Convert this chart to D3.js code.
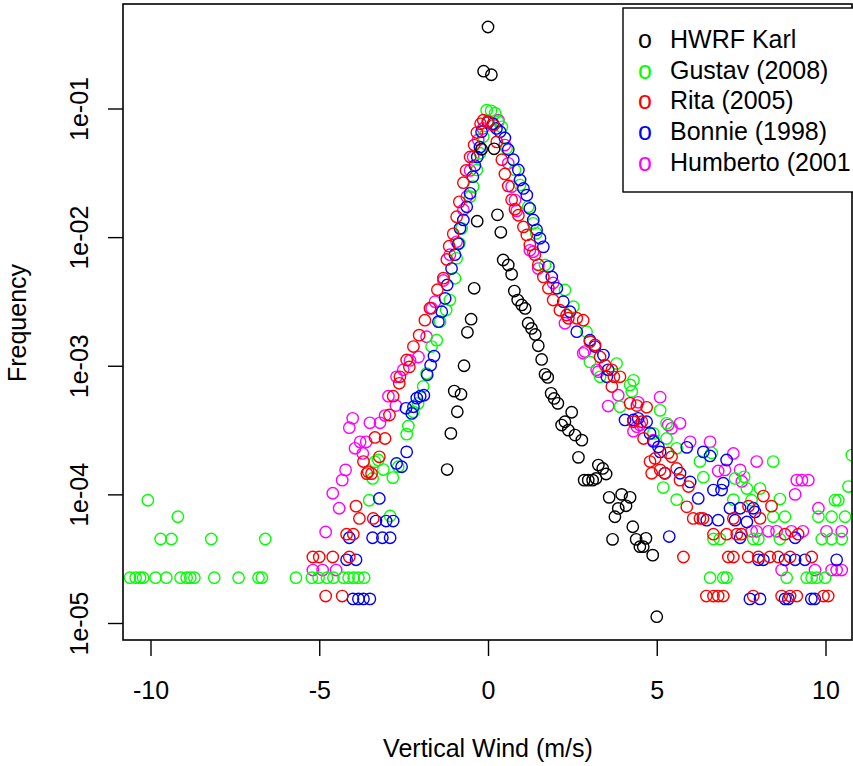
<!DOCTYPE html>
<html><head><meta charset="utf-8">
<script src="https://cdn.jsdelivr.net/npm/d3@7"></script>
<style>
body{margin:0;background:#fff}
svg{display:block}
text{font-family:"Liberation Sans",Arial,Helvetica,sans-serif;fill:#000}
</style>
</head><body>
<svg id="chart" width="853" height="766"></svg>
<script>
const seriesNames = ["HWRF Karl", "Gustav (2008)", "Rita (2005)", "Bonnie (1998)", "Humberto (2001"];
const seriesColors = ["#000000", "#00ff00", "#ff0000", "#0000ff", "#ff00ff"];
const xTicks = [-10, -5, 0, 5, 10];
const xTickLabels = ["-10", "-5", "0", "5", "10"];
const yTicks = [1e-5, 1e-4, 1e-3, 1e-2, 1e-1];
const yTickLabels = ["1e-05", "1e-04", "1e-03", "1e-02", "1e-01"];
const xTitle = "Vertical Wind (m/s)";
const yTitle = "Frequency";

// HWRF Karl: [vertical wind, frequency]
const karl = [
 [0.00,0.43],[-0.13,0.195],[0.10,0.183],[-0.19,0.0482],[0.18,0.0486],[-0.32,0.0133],[0.28,0.0149],[0.38,0.0109],
 [0.45,0.00664],[0.60,0.00607],[0.70,0.00514],[0.78,0.00381],[0.88,0.00324],[1.00,0.00297],[1.10,0.00279],
 [1.19,0.00214],[1.29,0.00195],[1.40,0.00175],[1.49,0.00143],[1.59,0.00112],[1.69,0.000858],[1.77,0.000812],
 [1.87,0.00061],[1.96,0.000557],[2.07,0.00051],[2.18,0.000346],[2.28,0.000367],[2.38,0.000316],[2.48,0.000435],
 [2.58,0.000289],[2.68,0.000194],[2.78,0.000264],[2.85,0.000129],[2.97,0.000129],[3.10,0.000129],[3.20,0.000133],
 [3.27,0.000169],[3.40,0.000159],[3.50,0.000144],[3.59,0.0000948],[3.69,0.0000447],[3.76,0.000067],[3.86,0.0000778],
 [3.96,0.0001],[4.09,0.0000815],[4.21,0.0000948],[4.29,0.000056],[4.39,0.0000447],[4.50,0.0000392],[4.60,0.0000392],
 [4.68,0.0000455],[4.88,0.0000337],[5.00,0.0000112],
 [-0.41,0.004],[-0.50,0.0023],[-0.61,0.00182],[-0.71,0.001],[-1.00,0.000635],[-0.80,0.0006],[-0.91,0.000439],
 [-1.10,0.000298],[-1.21,0.000156]
];

// Gustav (2008)
const gustav = [
 [-10.61,2.25e-5],[-10.44,2.25e-5],[-10.31,2.25e-5],[-10.22,2.25e-5],[-9.85,2.25e-5],[-9.53,2.25e-5],[-9.11,2.25e-5],
 [-8.93,2.25e-5],[-8.82,2.25e-5],[-8.70,2.25e-5],[-8.11,2.25e-5],[-7.39,2.25e-5],[-6.80,2.25e-5],[-6.70,2.25e-5],
 [-5.69,2.25e-5],[-5.22,2.25e-5],[-5.02,2.25e-5],[-4.77,2.25e-5],[-4.58,2.25e-5],[-4.28,2.25e-5],[-4.13,2.25e-5],
 [-3.98,2.25e-5],[-3.84,2.25e-5],[-3.67,2.25e-5],
 [-9.70,4.5e-5],[-9.38,4.5e-5],[-8.20,4.5e-5],[-6.60,4.5e-5],[-9.19,6.7e-5],[-10.08,9.0e-5],
 [-3.52,9.0e-5],[-3.35,1.79e-4],[-3.10,1.56e-4],[-3.42,1.33e-4],[-2.82,1.35e-4],[-2.90,6.8e-5],[-3.25,1.85e-4],
 [-2.66,1.64e-4],[-2.41,2.94e-4],[-2.36,3.4e-4],[-2.21,4.38e-4],[-2.07,5.1e-4],[-1.92,6.9e-4],[-1.82,8.7e-4],
 [-1.67,1.41e-3],[-1.52,1.58e-3],[-1.42,2.2e-3],[-1.24,2.71e-3],[-1.13,3.24e-3],[-0.98,4.79e-3],[-0.93,6.84e-3],
 [-0.85,8.95e-3],[-0.78,1.17e-2],[-0.53,2.06e-2],[-0.44,2.47e-2],[-0.33,3.33e-2],[-0.24,4.49e-2],[-0.14,6.04e-2],
 [-0.04,9.7e-2],[0.09,9.6e-2],[0.21,9.2e-2],[0.31,7.9e-2],[0.41,7.2e-2],
 [0.55,4.9e-2],[0.80,3.33e-2],[0.95,2.54e-2],[1.19,1.72e-2],[1.34,1.28e-2],[1.43,1.07e-2],[1.69,6.07e-3],
 [2.28,3.88e-3],[2.53,2.88e-3],[2.92,1.84e-3],[3.02,1.07e-3],[3.32,8.2e-4],[3.81,1.04e-3],[3.91,4.8e-4],
 [4.21,7.1e-4],[4.26,6.3e-4],[4.31,7.7e-4],[4.90,2.98e-4],[5.10,4.5e-4],[5.29,3.57e-4],[5.29,2.72e-4],[5.59,2.28e-4],
 [5.19,1.13e-4],[5.59,9.1e-5],[6.28,1.8e-4],[6.38,1.36e-4],[6.63,2.1e-4],[7.27,9.1e-5],[7.32,1.33e-4],[7.59,1.37e-4],
 [7.67,1.11e-4],[7.81,9.0e-5],[8.06,1.11e-4],[8.45,1.8e-4],[8.65,9.2e-5],[8.80,6.7e-5],[8.45,6.7e-5],[9.79,6.7e-5],
 [10.18,6.7e-5],[10.58,6.7e-5],[10.28,9.0e-5],[10.38,9.0e-5],[10.68,1.15e-4],[10.78,2.02e-4],
 [6.68,4.5e-5],[6.87,4.5e-5],[7.86,4.5e-5],[8.01,4.5e-5],[8.65,4.5e-5],[9.89,4.5e-5],[10.18,4.5e-5],[10.48,4.5e-5],
 [6.58,2.25e-5],[6.97,2.25e-5],[7.07,2.25e-5],[8.85,2.25e-5],[9.44,2.25e-5],[9.59,2.25e-5],[9.74,2.25e-5],[9.99,2.25e-5]
];

// Rita (2005)
const rita = [
 [-4.81,1.62e-5],[-4.32,1.62e-5],[-5.19,3.26e-5],[-5.00,3.26e-5],[-4.60,3.26e-5],[-4.11,3.26e-5],
 [-4.19,4.9e-5],[-3.99,4.9e-5],[-3.81,6.5e-5],[-3.40,6.5e-5],[-3.91,8.1e-5],
 [-3.55,1.5e-4],[-3.69,1.8e-4],[-3.59,1.45e-4],[-3.45,1.45e-4],[-3.22,1.96e-4],[-3.35,2.77e-4],[-3.05,2.72e-4],
 [-2.92,4.14e-4],[-2.81,5.8e-4],[-2.63,7.3e-4],[-2.61,8.2e-4],[-2.41,1.11e-3],[-2.33,9.8e-4],[-2.21,1.41e-3],
 [-2.04,1.73e-3],[-1.87,2.26e-3],[-1.72,2.8e-3],[-1.50,3.9e-3],[-1.32,4.8e-3],[-1.22,6.7e-3],[-1.15,8.5e-3],
 [-1.03,1.06e-2],[-0.93,1.44e-2],[-0.85,1.88e-2],[-0.73,2.65e-2],[-0.65,3.3e-2],[-0.53,4.2e-2],[-0.41,5.2e-2],
 [-0.33,6.5e-2],[-0.22,7.6e-2],[-0.14,8.1e-2],[0.00,7.9e-2],[0.16,7.4e-2],
 [0.26,5.5e-2],[0.41,4.0e-2],[0.50,3.1e-2],[0.60,2.5e-2],[0.70,1.95e-2],[0.80,1.65e-2],[0.90,1.48e-2],[1.05,1.2e-2],
 [1.15,1.04e-2],[1.24,8.7e-3],[1.39,7.3e-3],[1.49,6.1e-3],[1.64,4.9e-3],[1.79,4.0e-3],[1.93,3.24e-3],[2.13,2.7e-3],
 [2.33,2.48e-3],[2.38,2.34e-3],[2.63,2.34e-3],[2.82,2.26e-3],[3.02,1.54e-3],[3.17,1.45e-3],[3.32,1.17e-3],
 [3.47,1.01e-3],[3.67,9.3e-4],[3.73,8.2e-4],[3.91,8.2e-4],[3.67,6.9e-4],[4.21,5.1e-4],[4.41,4.9e-4],[4.70,4.75e-4],
 [4.31,3.67e-4],[4.56,3.67e-4],[4.61,2.72e-4],[4.80,1.8e-4],[4.95,1.9e-4],[5.34,2.1e-4],[5.44,1.96e-4],[5.10,1.55e-4],
 [4.85,1.46e-4],[5.24,1.46e-4],[5.59,1.59e-4],[5.69,1.29e-4],[5.94,1.15e-4],[5.89,8.0e-5],[6.08,6.5e-5],[6.28,6.5e-5],
 [6.37,6.5e-5],[7.27,6.5e-5],[7.72,8.1e-5],[8.06,6.5e-5],[8.16,9.7e-5],[8.40,8.1e-5],
 [6.68,4.9e-5],[7.07,4.9e-5],[7.37,4.9e-5],[7.51,4.9e-5],[8.80,4.9e-5],[9.19,4.9e-5],
 [5.79,3.26e-5],[7.12,3.26e-5],[7.27,3.26e-5],[7.71,3.26e-5],[8.01,3.26e-5],[8.35,3.26e-5],[8.60,3.26e-5],[8.95,3.26e-5],[9.59,3.26e-5],
 [6.47,1.62e-5],[6.68,1.62e-5],[6.82,1.62e-5],[6.97,1.62e-5],[7.86,1.62e-5],[8.70,1.62e-5],[8.95,1.62e-5],[9.15,1.62e-5],[9.94,1.62e-5],[10.08,1.62e-5]
];

// Bonnie (1998)
const bonnie = [
 [-4.00,1.54e-5],[-3.84,1.54e-5],[-3.69,1.54e-5],[-3.50,1.54e-5],[-4.19,3.1e-5],[-3.91,3.1e-5],
 [-4.11,4.6e-5],[-3.42,4.6e-5],[-3.13,4.6e-5],[-2.90,4.6e-5],[-3.32,6.2e-5],[-3.02,6.2e-5],[-2.81,6.2e-5],
 [-3.22,9.3e-5],[-2.71,1.74e-4],[-2.56,1.64e-4],[-2.41,2.14e-4],[-2.43,4.67e-4],[-2.26,4.26e-4],[-2.21,4.8e-4],
 [-2.11,5.6e-4],[-2.01,5.8e-4],[-1.90,5.9e-4],[-1.80,8.5e-4],[-1.70,1.01e-3],[-1.60,1.19e-3],[-1.47,2.2e-3],
 [-1.37,2.63e-3],[-1.27,3.34e-3],[-1.21,4.25e-3],[-1.08,5.7e-3],[-0.98,7.3e-3],[-0.88,8.9e-3],[-0.83,1.17e-2],
 [-0.73,1.36e-2],[-0.63,1.72e-2],[-0.53,2.19e-2],[-0.45,2.95e-2],[-0.39,3.6e-2],[-0.32,4.2e-2],[-0.24,5.0e-2],
 [-0.19,6.6e-2],[0.00,7.8e-2],[0.15,7.6e-2],[0.25,7.0e-2],
 [0.36,6.6e-2],[0.50,5.9e-2],[0.60,4.8e-2],[0.75,4.0e-2],[0.90,3.33e-2],[0.95,2.78e-2],[1.05,2.39e-2],[1.15,2.12e-2],
 [1.24,1.67e-2],[1.34,1.36e-2],[1.44,1.14e-2],[1.54,9.8e-3],[1.64,8.4e-3],[1.79,5.9e-3],[1.89,4.9e-3],[2.04,4.0e-3],
 [2.23,3.15e-3],[2.43,2.63e-3],[2.63,1.84e-3],[3.02,1.58e-3],[3.17,1.41e-3],[3.42,1.21e-3],[3.56,9.3e-4],[3.52,8.2e-4],
 [4.06,3.79e-4],[4.31,3.79e-4],[4.45,3.9e-4],[4.70,3.67e-4],[4.80,2.98e-4],[5.05,2.34e-4],[4.90,2.58e-4],[5.10,2.14e-4],
 [5.24,1.46e-4],[5.89,2.32e-4],[5.69,1.46e-4],[5.99,1.25e-4],[6.23,9.3e-5],[6.38,2.14e-4],[6.58,1.99e-4],[7.07,1.85e-4],
 [6.97,1.22e-4],[6.68,1.08e-4],[6.92,1.08e-4],[7.17,7.8e-5],[7.47,7.8e-5],[7.86,7.8e-5],[6.48,6.3e-5],[6.82,6.3e-5],
 [7.32,6.3e-5],[7.67,6.1e-5],[7.91,7.3e-5],[5.37,4.7e-5],[7.47,4.6e-5],[9.10,4.6e-5],
 [8.01,3.1e-5],[8.16,3.1e-5],[8.80,3.1e-5],[9.10,3.1e-5],[9.39,3.1e-5],[10.33,3.1e-5],
 [7.76,1.54e-5],[8.06,1.54e-5],[8.80,1.54e-5],[8.90,1.54e-5],[9.58,1.54e-5],[9.68,1.54e-5]
];

// Humberto (2001)
const humberto = [
 [-5.19,2.58e-5],[-4.90,2.58e-5],[-4.50,2.58e-5],
 [-4.81,5.1e-5],[-4.41,7.8e-5],[-4.60,1.02e-4],[-4.32,1.29e-4],[-4.22,1.55e-4],[-3.94,2.28e-4],[-3.71,2.08e-4],
 [-3.79,2.56e-4],[-3.61,2.56e-4],[-4.11,3.3e-4],[-4.01,3.9e-4],[-3.50,3.6e-4],[-3.20,3.6e-4],[-3.05,4.1e-4],
 [-2.95,5.8e-4],[-2.73,4.9e-4],[-2.71,8.2e-4],[-2.51,9.3e-4],[-2.31,1.1e-3],[-2.06,1.17e-3],[-1.82,1.68e-3],
 [-1.67,2.8e-3],[-1.57,3.15e-3],[-1.32,4.6e-3],[-1.13,7.3e-3],[-0.93,9.2e-3],[-0.73,1.63e-2],[-0.63,2.06e-2],
 [-0.53,3.3e-2],[-0.44,4.2e-2],[-0.29,5.7e-2],[-0.15,7.0e-2],[0.00,8.0e-2],
 [0.31,8.1e-2],[0.50,5.2e-2],[0.60,3.75e-2],[0.70,2.47e-2],[0.80,1.94e-2],[0.85,1.6e-2],[1.24,7.9e-3],[1.34,7.7e-3],
 [1.49,5.7e-3],[1.93,4.4e-3],[2.28,2.14e-3],[2.82,1.25e-3],[2.87,1.29e-3],[3.22,9.3e-4],[3.27,9.0e-4],[3.56,4.86e-4],
 [3.86,5.9e-4],[4.31,3.1e-4],[4.41,3.36e-4],[4.45,5.2e-4],[4.50,3.47e-4],[4.90,2.64e-4],[5.10,5.7e-4],[5.34,3.46e-4],
 [5.44,3.26e-4],[5.69,3.57e-4],[5.99,2.56e-4],[6.58,2.56e-4],[6.82,1.52e-4],[7.02,1.55e-4],[7.27,2.08e-4],[7.47,1.55e-4],
 [7.52,1.26e-4],[7.96,1.8e-4],[9.15,1.29e-4],[9.30,1.29e-4],[9.49,1.29e-4],[9.10,1.0e-4],[9.79,7.8e-5],
 [7.81,5.16e-5],[7.96,5.16e-5],[8.31,5.16e-5],[8.55,5.16e-5],[8.99,5.16e-5],[9.33,5.16e-5],[10.03,5.16e-5],[10.48,5.16e-5],
 [8.70,2.58e-5],[9.69,2.58e-5],[10.18,2.58e-5],[10.33,2.58e-5],[10.48,2.58e-5]
];

const seriesData = [karl, gustav, rita, bonnie, humberto];
const drawOrder = [4, 1, 3, 2, 0];
const FS = 25;

const svg = d3.select("#chart");
const L = 123, R = 852, T = 4, B = 640;
const x = d3.scaleLinear().domain([-10, 10]).range([150.5, 825.5]);
const y = d3.scaleLog().domain([1e-5, 1e-1]).range([623, 108.5]);

svg.append("defs").append("clipPath").attr("id", "plotclip")
  .append("rect").attr("x", L).attr("y", T).attr("width", R - L).attr("height", B - T);

const pts = svg.append("g").attr("clip-path", "url(#plotclip)");
drawOrder.forEach(i => {
  pts.append("g").selectAll("circle").data(seriesData[i]).join("circle")
    .attr("cx", d => x(d[0])).attr("cy", d => y(d[1])).attr("r", 5.7)
    .attr("fill", "none").attr("stroke", seriesColors[i]).attr("stroke-width", 1.4);
});

// axes
const xAxis = d3.axisBottom(x).tickValues(xTicks).tickFormat((d, i) => xTickLabels[i]).tickSize(16).tickPadding(25);
const gx = svg.append("g").attr("transform", `translate(0,${B})`).call(xAxis);
gx.select(".domain").remove();
gx.selectAll("line").attr("stroke", "#000").attr("stroke-width", 1.4);
gx.selectAll("text").attr("font-size", FS).attr("font-family", "Liberation Sans, Arial, sans-serif").attr("fill", "#000");

const yAxis = d3.axisLeft(y).tickValues(yTicks).tickFormat((d, i) => yTickLabels[i]).tickSize(15);
const gy = svg.append("g").attr("transform", `translate(${L},0)`).call(yAxis);
gy.select(".domain").remove();
gy.selectAll("line").attr("stroke", "#000").attr("stroke-width", 1.4);
gy.selectAll("text").attr("font-size", FS).attr("font-family", "Liberation Sans, Arial, sans-serif").attr("fill", "#000")
  .attr("x", 0).attr("dy", null).attr("text-anchor", "middle")
  .attr("transform", "translate(-35,0) rotate(-90)");

// frame
svg.append("rect").attr("x", L).attr("y", T).attr("width", R - L).attr("height", B - T)
  .attr("fill", "none").attr("stroke", "#000").attr("stroke-width", 1.6);

// titles
svg.append("text").attr("x", 488).attr("y", 757).attr("text-anchor", "middle").attr("font-size", FS).text(xTitle);
svg.append("text").attr("transform", "translate(26,323) rotate(-90)").attr("text-anchor", "middle").attr("font-size", FS).text(yTitle);

// legend
const lg = svg.append("g");
lg.append("rect").attr("x", 623).attr("y", 8).attr("width", 320).attr("height", 184)
  .attr("fill", "#fff").attr("stroke", "#000").attr("stroke-width", 1.4);
seriesNames.forEach((name, i) => {
  const by = 48 + i * 30.7;
  lg.append("text").attr("x", 645).attr("y", by).attr("text-anchor", "middle").attr("font-size", FS)
    .style("fill", seriesColors[i]).text("o");
  lg.append("text").attr("x", 670).attr("y", by).attr("font-size", FS).text(name);
});
</script>
</body></html>
